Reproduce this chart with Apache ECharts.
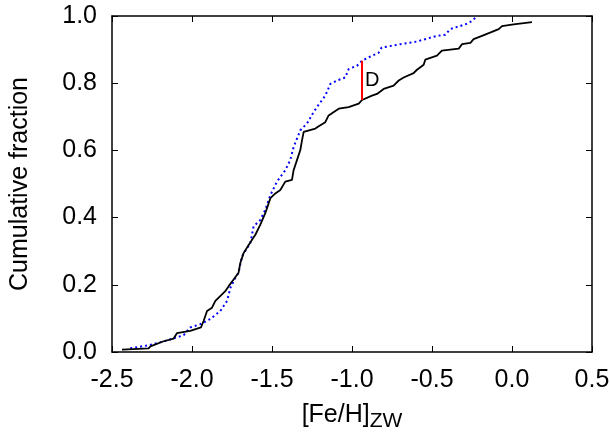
<!DOCTYPE html>
<html>
<head>
<meta charset="utf-8">
<script src="https://cdn.jsdelivr.net/npm/echarts@6/dist/echarts.min.js"></script>
<style>
  html, body { margin: 0; padding: 0; background: #fff; }
  #chart { width: 610px; height: 440px; }
</style>
</head>
<body>
<div id="chart"></div>
<script>
// solid black CDF
const sampleFeH = [-2.4375, -2.271, -2.26, -2.177, -2.115, -2.094, -2.011, -1.944, -1.927, -1.906,
  -1.875, -1.854, -1.792, -1.771, -1.74, -1.709, -1.698, -1.677, -1.625, -1.604,
  -1.573, -1.542, -1.51, -1.479, -1.448, -1.417, -1.375, -1.365, -1.344, -1.323,
  -1.3125, -1.302, -1.229, -1.208, -1.167, -1.146, -1.083, -1.021, -0.958, -0.9375,
  -0.875, -0.844, -0.802, -0.74, -0.708, -0.677, -0.615, -0.594, -0.552, -0.542,
  -0.469, -0.438, -0.333, -0.3125, -0.26, -0.24, -0.1875, -0.083, -0.0625, 0.01, 0.125]
const sampleFrac = [0.007, 0.011, 0.017, 0.032, 0.04, 0.056, 0.063, 0.073, 0.093, 0.122,
  0.132, 0.152, 0.181, 0.196, 0.216, 0.236, 0.265, 0.295, 0.334, 0.349,
  0.379, 0.413, 0.458, 0.472, 0.482, 0.507, 0.512, 0.541, 0.571, 0.601,
  0.63, 0.655, 0.665, 0.672, 0.684, 0.704, 0.724, 0.729, 0.739, 0.75,
  0.763, 0.768, 0.783, 0.793, 0.808, 0.817, 0.83, 0.84, 0.855, 0.87,
  0.882, 0.897, 0.903, 0.916, 0.92, 0.931, 0.941, 0.961, 0.97, 0.975, 0.982]

// dotted blue CDF
const compFeH = [-2.386, -2.271, -2.167, -2.052, -2.011, -1.948, -1.886, -1.823, -1.781, -1.76,
  -1.729, -1.709, -1.6875, -1.635, -1.615, -1.573, -1.542, -1.51, -1.469, -1.417,
  -1.386, -1.365, -1.344, -1.323, -1.281, -1.24, -1.219, -1.167, -1.135, -1.094,
  -1.042, -1.021, -0.969, -0.9375, -0.896, -0.833, -0.815, -0.698, -0.594, -0.469,
  -0.417, -0.386, -0.292, -0.25, -0.219]
const compFrac = [0.011, 0.02, 0.033, 0.05, 0.073, 0.083, 0.098, 0.122, 0.152, 0.191,
  0.221, 0.236, 0.285, 0.325, 0.374, 0.393, 0.423, 0.467, 0.507, 0.541,
  0.571, 0.61, 0.635, 0.66, 0.68, 0.714, 0.729, 0.763, 0.798, 0.808,
  0.817, 0.842, 0.852, 0.867, 0.877, 0.891, 0.906, 0.916, 0.924, 0.941,
  0.944, 0.961, 0.975, 0.985, 1.0]

// KS distance marker
const dFeH = -0.9375
const dRange = [0.75, 0.867]

const xTicks = [-2.5, -2.0, -1.5, -1.0, -0.5, 0.0, 0.5]
const yTicks = [0.0, 0.2, 0.4, 0.6, 0.8, 1.0]

const font = 'Liberation Sans, Arial, Helvetica, sans-serif'
const zip = (xs, ys) => xs.map((x, i) => [x, ys[i]])

const chart = echarts.init(document.getElementById('chart'))

const xBase = {
  type: 'value',
  min: xTicks[0],
  max: xTicks[xTicks.length - 1],
  interval: 0.5,
  splitLine: { show: false },
  axisLine: { onZero: false, lineStyle: { color: '#000', width: 1.5 } },
  axisTick: { inside: true, length: 6, lineStyle: { color: '#000', width: 1 } },
}
const yBase = {
  type: 'value',
  min: yTicks[0],
  max: yTicks[yTicks.length - 1],
  interval: 0.2,
  splitLine: { show: false },
  axisLine: { onZero: false, lineStyle: { color: '#000', width: 1.5 } },
  axisTick: { inside: true, length: 6, lineStyle: { color: '#000', width: 1 } },
}

chart.setOption({
  animation: false,
  textStyle: { fontFamily: font },
  grid: { left: 112, right: 18, top: 16, bottom: 88, containLabel: false, outerBoundsMode: 'none' },
  xAxis: [
    {
      ...xBase,
      position: 'bottom',
      name: '{m|[Fe/H]}{s|ZW}',
      nameLocation: 'middle',
      nameGap: 47,
      nameTextStyle: {
        rich: {
          m: { fontSize: 25, color: '#000', fontFamily: font },
          s: { fontSize: 21, color: '#000', fontFamily: font, padding: [12, 0, 0, 0] },
        },
      },
      axisLabel: {
        color: '#000', fontSize: 25, margin: 16, fontFamily: font,
        formatter: v => v.toFixed(1),
      },
    },
    { ...xBase, position: 'top', axisLabel: { show: false } },
  ],
  yAxis: [
    {
      ...yBase,
      position: 'left',
      name: 'Cumulative fraction',
      nameLocation: 'middle',
      nameGap: 79,
      nameTextStyle: { color: '#000', fontSize: 25, fontFamily: font },
      axisLabel: {
        color: '#000', fontSize: 25, margin: 15, fontFamily: font,
        formatter: v => v.toFixed(1),
      },
    },
    { ...yBase, position: 'right', axisLabel: { show: false } },
  ],
  series: [
    {
      name: 'sample',
      type: 'line',
      data: zip(sampleFeH, sampleFrac),
      showSymbol: false,
      lineStyle: { color: '#000', width: 1.8 },
      z: 3,
    },
    {
      name: 'comparison',
      type: 'line',
      data: zip(compFeH, compFrac),
      showSymbol: false,
      lineStyle: { color: '#0000ff', width: 2, type: [2, 3] },
      z: 2,
    },
    {
      name: 'D',
      type: 'line',
      data: dRange.map(y => [dFeH, y]),
      showSymbol: false,
      lineStyle: { color: '#ff0000', width: 2 },
      z: 4,
    },
    {
      name: 'Dlabel',
      type: 'scatter',
      data: [[dFeH, (dRange[0] + dRange[1]) / 2]],
      symbolSize: 0,
      itemStyle: { opacity: 1 },
      label: {
        show: true,
        position: 'right',
        distance: 3,
        formatter: 'D',
        color: '#000',
        fontSize: 20,
        fontFamily: font,
      },
      z: 5,
    },
  ],
})
</script>
</body>
</html>
